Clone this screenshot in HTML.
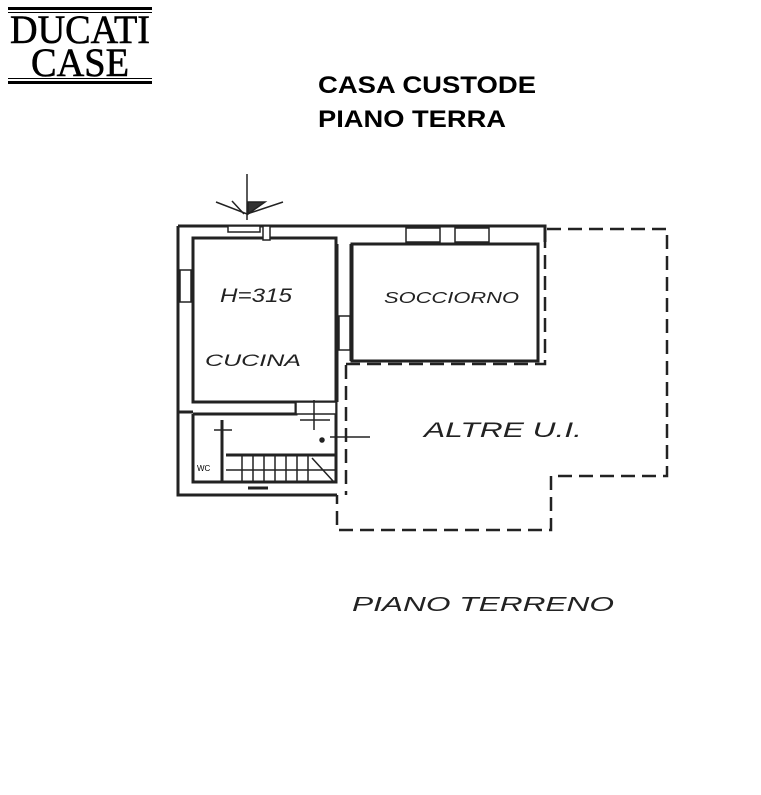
<!DOCTYPE html>
<html><head><meta charset="utf-8"><style>
html,body{margin:0;padding:0;background:#fff;}
body{width:761px;height:795px;position:relative;overflow:hidden;}
</style></head><body>
<svg width="761" height="795" viewBox="0 0 761 795" xmlns="http://www.w3.org/2000/svg" style="position:absolute;left:0;top:0">
<!-- logo -->
<rect x="8" y="7" width="144" height="3" fill="#000"/>
<rect x="8" y="12" width="144" height="1" fill="#000"/>
<rect x="8" y="78" width="144" height="1" fill="#000"/>
<rect x="8" y="81" width="144" height="3" fill="#000"/>
<text x="80" y="43" font-family="Liberation Serif, serif" font-size="40" text-anchor="middle" textLength="140" lengthAdjust="spacingAndGlyphs" stroke="#000" stroke-width="0.6">DUCATI</text>
<text x="80" y="76" font-family="Liberation Serif, serif" font-size="40" text-anchor="middle" textLength="98" lengthAdjust="spacingAndGlyphs" stroke="#000" stroke-width="0.6">CASE</text>
<!-- title -->
<text x="318" y="93" font-family="Liberation Sans, sans-serif" font-weight="bold" font-size="24" textLength="218" lengthAdjust="spacingAndGlyphs">CASA CUSTODE</text>
<text x="318" y="127" font-family="Liberation Sans, sans-serif" font-weight="bold" font-size="24" textLength="188" lengthAdjust="spacingAndGlyphs">PIANO TERRA</text>

<g stroke="#222" fill="none" stroke-width="3">
<path d="M178 226 H545 V242"/>
<path d="M178 226 V495 H337"/>
<path d="M193 238 H336 V402 H193 Z"/>
<path d="M352 244 H538 V361 H352 Z"/>
<path d="M337 244 V402"/>
<path d="M351 244 V361"/>
<path d="M193 414 H296 V402"/>
<path d="M193 414 V482 H336 V400"/>
<path d="M226 455 H336"/>
<path d="M178 412 H193"/>
</g>
<g stroke="#222" stroke-width="1.5" fill="#fff">
<rect x="228" y="226" width="32" height="6"/>
<rect x="263" y="226" width="7" height="14"/>
<rect x="406" y="228" width="34" height="14"/>
<rect x="455" y="228" width="34" height="14"/>
<rect x="180" y="270" width="11" height="32"/>
<rect x="339" y="316" width="11" height="34"/>
<rect x="296" y="402" width="40" height="12"/>
</g>
<g stroke="#222" stroke-width="1.5">
<path d="M242 456 V482 M253 456 V482 M264 456 V482 M275 456 V482 M286 456 V482 M297 456 V482 M308 456 V482"/>
<path d="M226 470 H336"/>
<path d="M312 458 L333 481"/>
<path d="M222 420 V482" stroke-width="3"/>
<path d="M214 430 H232"/>
<path d="M248 488 H268" stroke-width="3"/>
<path d="M314 400 V430 M300 420 H330"/>
<path d="M330 437 H370"/>
<circle cx="322" cy="440" r="2" fill="#222"/>
</g>
<text x="197" y="471" font-family="Liberation Sans, sans-serif" font-size="8">WC</text>
<g stroke="#222" stroke-width="1.5" fill="none">
<path d="M247 174 V220"/>
<path d="M216 202 L247 214 L283 202"/>
<path d="M232 201 L244 214 M258 202 L250 213"/>
<path d="M248 202 L265 202 L248 214 Z" fill="#333"/>
</g>
<g stroke="#222" stroke-width="2.5" fill="none" stroke-dasharray="14 7">
<path d="M547 229 H667 V476 H551 V530 H337 V495"/>
<path d="M346 365 V495"/>
<path d="M346 364 H545 V232"/>
</g>
<g font-family="Liberation Sans, sans-serif" font-style="italic" fill="#222">
<text x="220" y="302" font-size="19" textLength="72" lengthAdjust="spacingAndGlyphs">H=315</text>
<text x="384" y="303" font-size="16" textLength="135" lengthAdjust="spacingAndGlyphs">SOCCIORNO</text>
<text x="205" y="366" font-size="17" textLength="96" lengthAdjust="spacingAndGlyphs">CUCINA</text>
<text x="424" y="437" font-size="21" textLength="158" lengthAdjust="spacingAndGlyphs">ALTRE U.I.</text>
<text x="352" y="611" font-size="20" textLength="262" lengthAdjust="spacingAndGlyphs">PIANO  TERRENO</text>
</g>
</svg>
</body></html>
